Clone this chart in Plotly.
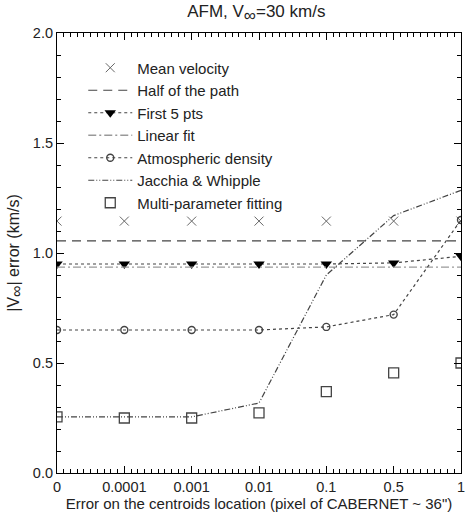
import plotly.graph_objects as go

tick_labels = ["0", "0.0001", "0.001", "0.01", "0.1", "0.5", "1"]
xpos = [0, 1, 2, 3, 4, 5, 6]

mean_velocity = [1.145, 1.145, 1.145, 1.145, 1.145, 1.145, 1.145]
half_path = [1.055, 1.055, 1.055, 1.055, 1.055, 1.055, 1.055]
first5 = [0.95, 0.95, 0.95, 0.95, 0.95, 0.955, 0.985]
linear_fit = [0.936, 0.936, 0.936, 0.936, 0.936, 0.936, 0.936]
atm_density = [0.65, 0.65, 0.65, 0.65, 0.664, 0.72, 1.15]
jacchia = [0.255, 0.255, 0.255, 0.318, 0.9, 1.17, 1.285]
multi_param = [0.255, 0.25, 0.25, 0.273, 0.37, 0.455, 0.5]

fig = go.Figure()
fig.add_trace(go.Scatter(x=xpos, y=mean_velocity, mode="markers", name="Mean velocity",
                         marker=dict(symbol="x-thin-open", size=9, color="#666", line=dict(color="#666", width=1))))
fig.add_trace(go.Scatter(x=xpos, y=half_path, mode="lines", name="Half of the path",
                         line=dict(color="#444", width=1.2, dash="9px,6px")))
fig.add_trace(go.Scatter(x=xpos, y=first5, mode="lines+markers", name="First 5 pts",
                         line=dict(color="#444", width=1.2, dash="dot"),
                         marker=dict(symbol="triangle-down", size=10, color="black")))
fig.add_trace(go.Scatter(x=xpos, y=linear_fit, mode="lines", name="Linear fit",
                         line=dict(color="#999", width=1.4, dash="8px,3px,2px,3px")))
fig.add_trace(go.Scatter(x=xpos, y=atm_density, mode="lines+markers", name="Atmospheric density",
                         line=dict(color="#444", width=1.2, dash="dot"),
                         marker=dict(symbol="circle-open", size=7, color="#444", line=dict(width=1.4))))
fig.add_trace(go.Scatter(x=xpos, y=jacchia, mode="lines", name="Jacchia & Whipple",
                         line=dict(color="#444", width=1.2, dash="6px,2px,1px,2px,1px,2px")))
fig.add_trace(go.Scatter(x=xpos, y=multi_param, mode="markers", name="Multi-parameter fitting",
                         marker=dict(symbol="square-open", size=10, color="#444", line=dict(width=1.3))))

axis_common = dict(showline=True, linecolor="black", linewidth=1.2, mirror="ticks",
                   ticks="inside", tickcolor="black", ticklen=7, showgrid=False, zeroline=False,
                   automargin=False, ticklabeloverflow="allow",
                   tickfont=dict(size=14.5, color="#222"))

fig.update_layout(
    width=466, height=516,
    margin=dict(l=57, r=5, t=33, b=43),
    paper_bgcolor="white", plot_bgcolor="white",
    font=dict(family="Liberation Sans, Arial, sans-serif", size=14, color="#222"),
    title=dict(text="AFM, V<sub><span style='font-size:17px'>∞</span></sub>=30 km/s",
               x=0.55, xanchor="center", y=0.99, yanchor="top",
               font=dict(size=17, color="#222")),
    showlegend=True,
    legend=dict(x=0.065, y=0.958, xanchor="left", yanchor="top", bgcolor="rgba(0,0,0,0)",
                font=dict(size=15, color="#222"), tracegroupgap=0, itemwidth=44),
    xaxis=dict(range=[0, 6], tickvals=xpos, ticktext=tick_labels,
               minor=dict(dtick=0.1, ticks="inside", ticklen=4, tickcolor="black"),
               title=dict(text="Error on the centroids location (pixel of CABERNET ~ 36\")",
                          font=dict(size=15), standoff=2),
               **axis_common),
    yaxis=dict(range=[0, 2.0], tickvals=[0, 0.5, 1.0, 1.5, 2.0], tickformat=".1f",
               minor=dict(dtick=0.1, ticks="inside", ticklen=4, tickcolor="black"),
               title=dict(text="|V<sub><span style='font-size:16px'>∞</span></sub>| error (km/s)",
                          font=dict(size=16), standoff=9),
               **axis_common),
)

fig.write_html("out.html", config={"displayModeBar": False},
               post_script="document.body.style.margin='0';document.body.style.overflow='hidden';")
